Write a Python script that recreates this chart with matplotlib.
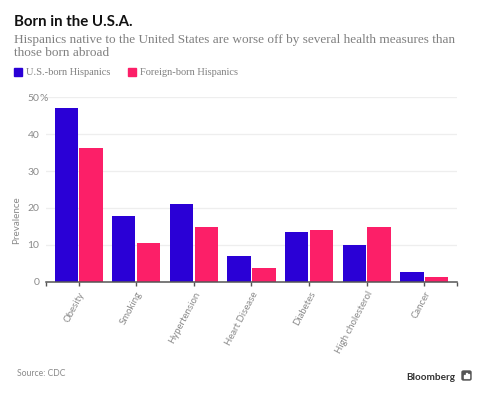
import matplotlib
matplotlib.use("Agg")
import matplotlib.pyplot as plt
import numpy as np
from matplotlib.patches import Rectangle, FancyBboxPatch

categories = ["Obesity", "Smoking", "Hypertension", "Heart Disease", "Diabetes",
              "High cholesterol", "Cancer"]
us_born = [47.2, 17.8, 21.1, 6.9, 13.4, 10.0, 2.7]
foreign_born = [36.3, 10.4, 14.9, 3.6, 14.1, 14.7, 1.4]
series_names = ["U.S.-born Hispanics", "Foreign-born Hispanics"]
yticks = [0, 10, 20, 30, 40, 50]
ytick_labels = ["0", "10", "20", "30", "40", "50"]

BLUE = "#2a00d6"
PINK = "#fc1f68"
W, H = 488, 399

fig = plt.figure(figsize=(W / 100, H / 100), dpi=100)
fig.patch.set_facecolor("white")

def fx(px):
    return px / W

def fy(py):
    return 1 - py / H

left, right = 46, 456.7
bottom, top = 281.7, 97.3
ax = fig.add_axes([fx(left), fy(bottom), fx(right - left), (bottom - top) / H])

x = np.arange(len(categories))
bw = 0.405
ax.bar(x - 0.215, us_born, width=bw, color=BLUE, zorder=3)
ax.bar(x + 0.215, foreign_born, width=bw, color=PINK, zorder=3)

ax.set_xlim(-0.565, len(categories) - 1 + 0.56)
ax.set_ylim(0, 50)
ax.set_yticks(yticks)
ax.set_yticklabels(ytick_labels)
ax.yaxis.grid(True, color="#eeeeee", linewidth=0.9, zorder=0)
ax.set_axisbelow(True)
for s in ["top", "right", "left"]:
    ax.spines[s].set_visible(False)
ax.spines["bottom"].set_color("#555555")
ax.spines["bottom"].set_linewidth(1.1)
ax.spines["bottom"].set_zorder(4)

ax.tick_params(axis="y", length=0, pad=4.8, labelsize=7.5, labelcolor="#8a8a8a")
for lab in ax.get_yticklabels():
    lab.set_fontfamily("Lato")
ax.annotate("%", xy=(0, 50), xycoords=("axes fraction", "data"),
            xytext=(-4.8, 0), textcoords="offset points", ha="left",
            va="center_baseline", fontsize=7.5, color="#8a8a8a", family="Lato")

ax.set_xticks(x)
ax.set_xticklabels(categories, rotation=62, ha="right", rotation_mode="anchor",
                   fontsize=6.9, color="#8a8a8a", family="Lato")
ax.tick_params(axis="x", length=3, width=1, color="#555555", pad=3)
ax.set_xticks([-0.565, len(categories) - 1 + 0.56], minor=True)
ax.tick_params(axis="x", which="minor", length=3, width=1, color="#555555")

ax.set_ylabel("Prevalence", fontsize=7.1, color="#8a8a8a", family="Lato")
ax.yaxis.set_label_coords(-(left - 21.5) / (right - left), (bottom - 220) / (bottom - top))

# Title and subtitle
fig.text(fx(14), fy(21.5), "Born in the U.S.A.", fontsize=10.8, fontweight="bold",
         family="Lato", color="#111111", va="center", ha="left")
fig.text(fx(14), fy(39.5), "Hispanics native to the United States are worse off by several health measures than",
         fontsize=9.5, family="Liberation Serif", color="#808080", va="center", ha="left")
fig.text(fx(14), fy(53.5), "those born abroad",
         fontsize=9.5, family="Liberation Serif", color="#808080", va="center", ha="left")

# Legend
for sx, tx, col, name in [(14, 26, BLUE, series_names[0]), (128, 139.5, PINK, series_names[1])]:
    fig.patches.append(Rectangle((fx(sx), fy(76)), fx(8), 8 / H, color=col,
                                 transform=fig.transFigure, figure=fig))
    fig.text(fx(tx), fy(72.8), name, fontsize=7.5, family="Liberation Serif",
             color="#808080", va="center", ha="left")

# Footer
fig.text(fx(17), fy(373), "Source: CDC", fontsize=6.2, family="Lato", color="#8a8a8a",
         va="center", ha="left")
fig.text(fx(455), fy(377), "Bloomberg", fontsize=7.2, fontweight="bold", family="Lato",
         color="#333333", va="center", ha="right")
fig.patches.append(FancyBboxPatch((fx(462), fy(380)), fx(9), 9 / H,
                                  boxstyle="round,pad=0,rounding_size=0.003",
                                  color="#555555", transform=fig.transFigure, figure=fig))
for bx, bh in [(464, 3), (466, 5), (468, 4)]:
    fig.patches.append(Rectangle((fx(bx), fy(378)), fx(1.2), bh / H, color="white",
                                 transform=fig.transFigure, figure=fig))

fig.savefig("out.png", dpi=100, facecolor="white")
